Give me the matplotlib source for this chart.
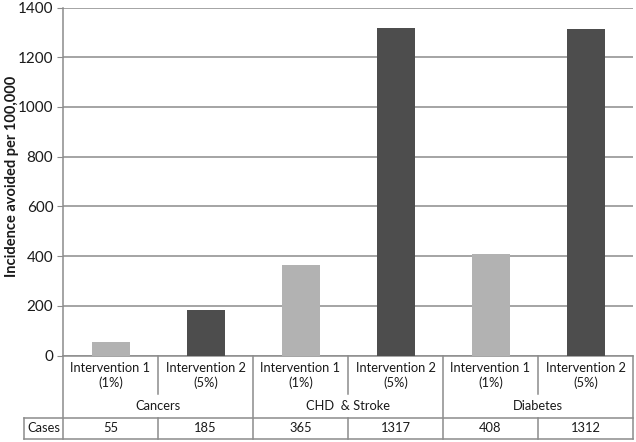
import numpy as np
import matplotlib.pyplot as plt
import matplotlib.transforms as mtransforms

plt.rcParams['font.family'] = ['Lato', 'DejaVu Sans']

# data
groups = ['Cancers', 'CHD  & Stroke', 'Diabetes']
interventions = ['Intervention 1\n(1%)', 'Intervention 2\n(5%)']
values = [55, 185, 365, 1317, 408, 1312]
cases = ['55', '185', '365', '1317', '408', '1312']
bar_colors = ['#b2b2b2', '#4d4d4d']

W, H = 636, 442
fig = plt.figure(figsize=(W / 100, H / 100), dpi=100)
ax = fig.add_axes([63 / W, 1 - 355.5 / H, 570 / W, 348 / H])

x = np.arange(len(values))
colors = [bar_colors[i % 2] for i in range(len(values))]
ax.bar(x, values, width=0.4, color=colors, zorder=3)

ax.set_xlim(-0.5, len(values) - 0.5)
ax.set_ylim(0, 1400)
ax.set_yticks(np.arange(0, 1401, 200))
ax.yaxis.grid(True, color='#8c8c8c', linewidth=1.1, zorder=0)
ax.set_xticks([])
for s in ['top', 'right', 'bottom']:
    ax.spines[s].set_visible(False)
ax.spines['left'].set_color('#8c8c8c')
ax.spines['left'].set_linewidth(1.1)
ax.tick_params(axis='y', length=4, color='#8c8c8c', labelsize=11, pad=3,
               labelcolor='#1a1a1a')

W_ = W


def fy(ypix):
    return 1 - ypix / H


fig.text(12 / W, fy(176), 'Incidence avoided per 100,000', rotation=90,
         ha='center', va='center', fontsize=10.5, fontweight='bold', color='#1a1a1a')

# table below the axis
tr = mtransforms.blended_transform_factory(ax.transData, fig.transFigure)
lc = '#8c8c8c'
lw = 1.1

y_base, y_part, y_row, y_bot = 355.5, 394, 417.5, 438.5
n = len(values)
ax.plot([-0.5, n - 0.5], [fy(y_base)] * 2, transform=tr, color=lc, lw=lw, clip_on=False)
for b in np.arange(-0.5, n, 1.0):
    if int(b + 0.5) % 2 == 0:
        ax.plot([b, b], [fy(y_base), fy(y_bot)], transform=tr, color=lc, lw=lw, clip_on=False)
    else:
        ax.plot([b, b], [fy(y_base), fy(y_part)], transform=tr, color=lc, lw=lw, clip_on=False)
        ax.plot([b, b], [fy(y_row), fy(y_bot)], transform=tr, color=lc, lw=lw, clip_on=False)

# cases row lines extending to the label cell
ft = fig.transFigure
x_right = 633 / W
for yy in [y_row, y_bot]:
    fig.add_artist(plt.Line2D([24 / W, x_right], [fy(yy)] * 2, transform=ft, color=lc, lw=lw))
fig.add_artist(plt.Line2D([24 / W, 24 / W], [fy(y_row), fy(y_bot)], transform=ft, color=lc, lw=lw))

tc = '#1a1a1a'
fs = 9.3
for i in range(n):
    ax.text(i, fy(375.5), interventions[i % 2], transform=tr, ha='center', va='center',
            fontsize=fs, color=tc, linespacing=1.2)
    ax.text(i, fy(428), cases[i], transform=tr, ha='center', va='center',
            fontsize=fs, color=tc)
for g, name in enumerate(groups):
    ax.text(2 * g + 0.5, fy(406.5), name, transform=tr, ha='center', va='center',
            fontsize=fs, color=tc)
fig.text(43.5 / W, fy(428), 'Cases', ha='center', va='center', fontsize=fs, color=tc)

fig.savefig('out.png', dpi=100)
